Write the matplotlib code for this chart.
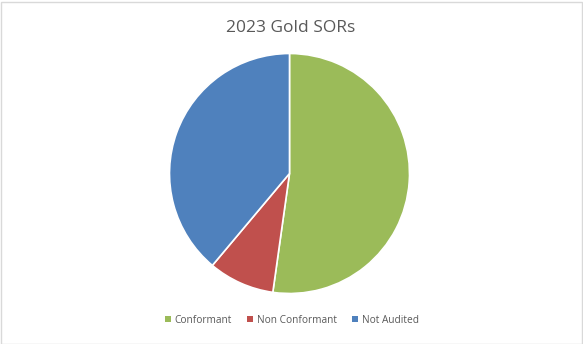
import matplotlib.pyplot as plt
from matplotlib.patches import Patch, Rectangle

# data
labels = ['Conformant', 'Non Conformant', 'Not Audited']
values = [47, 8, 35]
colors = ['#9BBB59', '#C0504D', '#4F81BD']

TEXT_GREY = '#595959'
W, H = 583, 344

fig = plt.figure(figsize=(W / 100, H / 100), dpi=100)
fig.patch.set_facecolor('white')
# thin chart border
fig.add_artist(Rectangle((0.5 / W, 0.5 / H), 1 - 2 / W, 1 - 2 / H, transform=fig.transFigure,
                         fill=False, edgecolor='#D9D9D9', linewidth=1))

# pie axes: center ~(290, 173.5) px, radius ~120 px
cx, cy, r = 289.5, 173.5, 120
ax = fig.add_axes([(cx - r) / W, (H - cy - r) / H, 2 * r / W, 2 * r / H])
ax.pie(values, colors=colors, startangle=90, counterclock=False, radius=1,
       wedgeprops={'edgecolor': 'white', 'linewidth': 1.2})
ax.set_xlim(-1, 1)
ax.set_ylim(-1, 1)
ax.set_aspect('equal')
ax.axis('off')

fig.text(291 / W, 1 - 28 / H, '2023 Gold SORs', ha='center', va='center',
         fontsize=12.5, color=TEXT_GREY, family='Open Sans')

handles = [Patch(facecolor=c, edgecolor='none') for c in colors]
fig.legend(handles, labels, loc='center', bbox_to_anchor=(292 / W, 1 - 320.5 / H), ncol=3,
           frameon=False, labelcolor=TEXT_GREY, handlelength=0.55, handleheight=0.55,
           handletextpad=0.4, columnspacing=1.5, prop={'family': 'Open Sans', 'size': 7.3})

fig.savefig('out.png', dpi=100)
